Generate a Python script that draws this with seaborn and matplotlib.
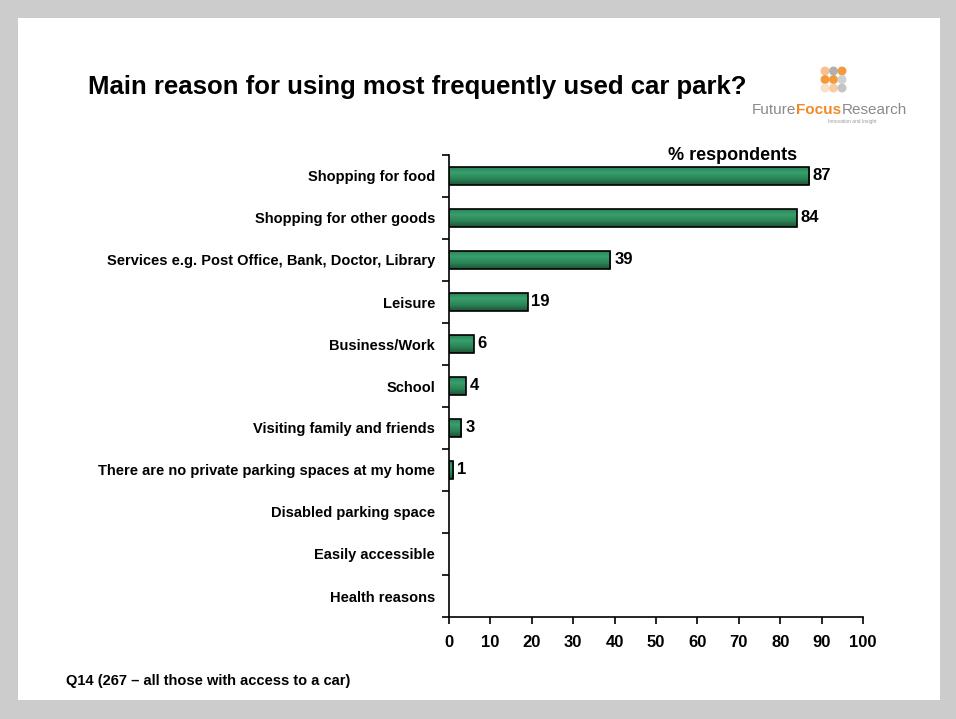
import numpy as np
import pandas as pd
import matplotlib
matplotlib.use("Agg")
import matplotlib.pyplot as plt
from matplotlib.patches import Rectangle, Ellipse
from matplotlib.colors import LinearSegmentedColormap
import seaborn as sns

# Chart data
reasons = [
    "Shopping for food",
    "Shopping for other goods",
    "Services e.g. Post Office, Bank, Doctor, Library",
    "Leisure",
    "Business/Work",
    "School",
    "Visiting family and friends",
    "There are no private parking spaces at my home",
    "Disabled parking space",
    "Easily accessible",
    "Health reasons",
]
percent = [87, 84, 39, 19, 6, 4, 3, 1, 0, 0, 0]
x_ticks = [0, 10, 20, 30, 40, 50, 60, 70, 80, 90, 100]

df = pd.DataFrame({"reason": reasons, "pct": percent})

sns.set_style("white")
plt.rcParams["font.family"] = ["Liberation Sans", "DejaVu Sans"]
plt.rcParams["text.color"] = "black"
plt.rcParams["xtick.color"] = "black"
plt.rcParams["ytick.color"] = "black"

fig = plt.figure(figsize=(9.56, 7.19), dpi=100)
fig.patch.set_facecolor("#cccccc")
# white slide panel
fig.add_artist(Rectangle((18 / 956, 1 - 700 / 719), (940 - 18) / 956, (700 - 18) / 719,
                         transform=fig.transFigure, facecolor="white", edgecolor="none", zorder=0))

ax = fig.add_axes([449 / 956, 1 - 617 / 719, 414 / 956, 462 / 719])
ax.set_facecolor("none")

sns.barplot(data=df[df.pct > 0], x="pct", y="reason", orient="h", ax=ax, color="#2b8a5c",
            edgecolor="black", linewidth=1.2, width=0.43, saturation=1, order=reasons)

# vertical shading inside each bar, like the original slide
shade = LinearSegmentedColormap.from_list("bar", ["#2a7c53", "#37a06d", "#2c8457", "#1b5436"])
grad = np.linspace(0, 1, 64).reshape(-1, 1)
for p in list(ax.patches):
    if p.get_width() <= 0:
        continue
    x0, y0, w, h = p.get_x(), p.get_y(), p.get_width(), p.get_height()
    im = ax.imshow(grad, cmap=shade, aspect="auto", origin="upper",
                   extent=(x0, x0 + w, y0 + h, y0), zorder=1.5)
    im.set_clip_path(p)
    p.set_facecolor("none")
    p.set_zorder(2)

for i, v in enumerate(percent):
    if v > 0:
        ax.text(v + 0.9, i, str(v), va="center", ha="left", fontsize=12, fontweight="bold")

ax.set_xlim(0, 100)
ax.set_ylim(len(reasons) - 0.5, -0.5)
ax.set_xticks(x_ticks)
ax.set_xticklabels([str(t) for t in x_ticks], fontsize=12, fontweight="bold")
ax.set_yticks(range(len(reasons)))
ax.set_yticklabels(reasons, fontsize=10.5, fontweight="bold")
ax.set_yticks(np.arange(-0.5, len(reasons), 1), minor=True)
ax.tick_params(axis="y", which="major", left=False, length=0, pad=10)
ax.tick_params(axis="y", which="minor", left=True, length=5, width=1.2, direction="out")
ax.tick_params(axis="x", which="major", bottom=True, length=5, width=1.2, direction="out", pad=8)
ax.set_xlabel("")
ax.set_ylabel("")
for side in ["top", "right"]:
    ax.spines[side].set_visible(False)
for side in ["left", "bottom"]:
    ax.spines[side].set_color("black")
    ax.spines[side].set_linewidth(1.2)

ax.text(0.684, 1.0, "% respondents", transform=ax.transAxes, ha="center", va="center",
        fontsize=13, fontweight="bold")

fig.text(88 / 956, 1 - 87 / 719, "Main reason for using most frequently used car park?",
         fontsize=18.5, fontweight="bold", va="center", ha="left")

fig.text(66 / 956, 1 - 681 / 719, "Q14 (267 \u2013 all those with access to a car)",
         fontsize=10.5, fontweight="bold", va="center", ha="left")

# logo
dot_colors = [["#f7c08f", "#b0b0b0", "#f39a3c"],
              ["#f39a3c", "#f39a3c", "#d0d0d0"],
              ["#fbe0c8", "#f8cba5", "#c4c4c4"]]
for r in range(3):
    for c in range(3):
        fig.add_artist(Ellipse(((825 + c * 8.5) / 956, 1 - (71 + r * 8.5) / 719),
                               7.5 / 956, 7.5 / 719, transform=fig.transFigure,
                               color=dot_colors[r][c], zorder=3))

renderer = fig.canvas.get_renderer()
x_px = 752
for word, col, wt in [("Future", "#8a8a8a", "normal"), ("Focus", "#f08a24", "bold"),
                      ("Research", "#8a8a8a", "normal")]:
    t = fig.text(x_px / 956, 1 - 110 / 719, word, fontsize=11, color=col, fontweight=wt,
                 va="center", ha="left")
    x_px += t.get_window_extent(renderer).width
fig.text(852 / 956, 1 - 122 / 719, "Innovation and Insight", fontsize=3.5, color="#999999",
         va="center", ha="center")

fig.savefig("out.png", dpi=100, facecolor=fig.get_facecolor())
